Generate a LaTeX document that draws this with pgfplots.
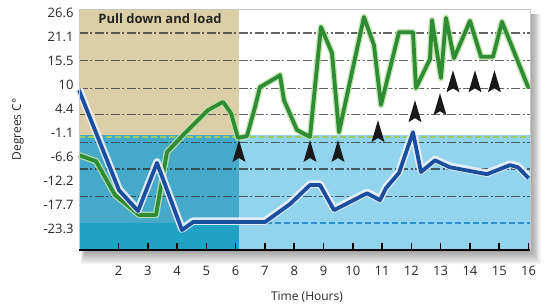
\documentclass[border=0pt]{standalone}
\usepackage{pgfplots}
\pgfplotsset{compat=1.18}
\usepackage{fontspec}
\setmainfont{Open Sans}
\definecolor{tanbg}{HTML}{DCCFA8}
\definecolor{bluedark}{HTML}{47A9CA}
\definecolor{bluelight}{HTML}{92D3EE}
\definecolor{bandteal}{HTML}{1FA2C4}
\definecolor{greenline}{HTML}{2F8B34}
\definecolor{greenglow}{HTML}{BDE3A8}
\definecolor{blueline}{HTML}{1C4E9E}
\definecolor{blueglow}{HTML}{EEF1FB}
\definecolor{gridc}{HTML}{303030}
\definecolor{dashblue}{HTML}{2A8FCB}
\definecolor{dashgreen}{HTML}{9ACD5C}
\pgfdeclareplotmark{spike}{%
  \pgfpathmoveto{\pgfqpoint{0pt}{0pt}}%
  \pgfpathlineto{\pgfqpoint{6.5pt}{-22pt}}%
  \pgfpathlineto{\pgfqpoint{0pt}{-18pt}}%
  \pgfpathlineto{\pgfqpoint{-6.5pt}{-22pt}}%
  \pgfpathclose\pgfusepathqfill}
\begin{document}
\begin{tikzpicture}
\useasboundingbox (-79pt,-57pt) rectangle (468pt,250pt);
\foreach \i in {0,...,11}{\fill[black,opacity=0.035] (\i*0.4pt+2pt,-14pt+\i*1.1pt) rectangle (462pt-\i*0.9pt,236pt);}
\begin{axis}[
  scale only axis, width=451pt, height=241pt,
  xmin=0.651, xmax=16.05, ymin=-28.2, ymax=27.45,
  axis background/.style={fill=white},
  axis on top,
  axis line style={draw=black!22, line width=0.8pt},
  xtick={2,...,16}, xtick pos=bottom, tick align=inside,
  xtick style={black, line width=1.5pt}, major tick length=7pt,
  ytick={26.6,21.1,15.5,10,4.4,-1.1,-6.6,-12.2,-17.7,-23.3},
  yticklabels={26.6,21.1,15.5,10,4.4,-1.1,-6.6,-12.2,-17.7,-23.3},
  ytick style={draw=none},
  /pgf/number format/assume math mode=true,
  tick label style={font=\fontsize{13}{15}\selectfont, text=black!85},
  xticklabel style={yshift=-13pt},
  yticklabel style={xshift=-2pt},
  xlabel={Time (Hours)},
  ylabel={Degrees C°},
  label style={font=\fontsize{12}{14}\selectfont, text=black!85},
  xlabel style={at={(axis description cs:0.5055,-0.197)}, anchor=center},
  ylabel style={at={(axis description cs:-0.1353,0.5)}, anchor=center},
  clip=false,
  after end axis/.code={\draw[black, line width=2pt] (rel axis cs:0,0) -- (rel axis cs:1,0);},
]
% background regions
\addplot[draw=none, fill=tanbg] coordinates {(0.651,-1.65) (6.114,-1.65) (6.114,27.45) (0.651,27.45)} -- cycle;
\addplot[draw=none, fill=bluedark] coordinates {(0.651,-28.2) (6.114,-28.2) (6.114,-1.65) (0.651,-1.65)} -- cycle;
\addplot[draw=none, fill=bluelight] coordinates {(6.114,-28.2) (16.05,-28.2) (16.05,-1.65) (6.114,-1.65)} -- cycle;
\addplot[draw=none, fill=bandteal] coordinates {(0.651,-28.2) (6.114,-28.2) (6.114,-21.9) (0.651,-21.9)} -- cycle;
% grid lines
\foreach \g in {21.9,15.5,9.1,3.0,-3.3,-9.5,-15.9}{
  \edef\tmp{\noexpand\addplot[gridc, opacity=0.75, line width=1.2pt, dash pattern=on 9pt off 2.5pt on 2pt off 2.5pt] coordinates {(0.651,\g) (16.05,\g)};}\tmp
}
\addplot[dashgreen, line width=1.3pt, dash pattern=on 6pt off 3pt] coordinates {(0.651,-2.11) (16.05,-2.11)};
\addplot[dashblue, line width=1.3pt, dash pattern=on 6pt off 3pt] coordinates {(6.114,-21.99) (16.05,-21.99)};
\pgfplotstableread{
h v
0.651 -6.3
1.232 -7.7
1.881 -15.5
2.700 -20.1
3.280 -20.1
3.656 -5.6
4.270 -1.2
5.056 4.1
5.568 6.0
5.841 3.4
6.080 -2.3
6.387 -1.9
6.660 4.8
6.831 9.4
7.411 11.7
7.514 12.2
7.650 6.4
8.094 -0.5
8.538 -2.1
8.913 23.3
9.289 17.3
9.528 -1.0
10.381 25.6
10.723 19.1
10.962 5.3
11.577 22.1
12.055 22.1
12.157 9.2
12.635 15.9
12.703 24.9
13.011 11.5
13.181 25.4
13.455 16.1
14.001 24.7
14.377 16.4
14.786 16.4
15.094 24.5
16.0 9.2
}\greendata
\pgfplotstableread{
h v
0.651 8.7
2.017 -14.4
2.666 -19.2
3.314 -8.1
4.168 -23.6
4.544 -21.75
7.002 -21.75
7.855 -17.6
8.538 -13.2
8.880 -13.2
9.358 -19.0
10.485 -15.1
10.928 -16.7
11.133 -13.9
11.577 -10.4
12.055 -1.0
12.328 -10.2
12.806 -7.5
13.318 -9.1
14.582 -10.7
15.367 -8.6
15.640 -9.1
16.0 -11.6
}\bluedata
\addplot[greenglow, line width=6.5pt, line join=round, opacity=0.85] table[x=h,y=v] {\greendata};
\addplot[greenline, line width=3.8pt, line join=round] table[x=h,y=v] {\greendata};
\addplot[blueglow, line width=7.5pt, line join=round, opacity=0.9, yshift=1pt] table[x=h,y=v] {\bluedata};
\addplot[blueline, line width=3.8pt, line join=round] table[x=h,y=v] {\bluedata};
\addplot[only marks, mark=spike, color=black, mark options={fill=black!90}] coordinates {
(6.114,-2.8) (8.538,-2.8) (9.494,-2.8) (10.860,1.8) (12.123,6.4) (12.977,8.0) (13.421,13.3) (14.172,13.3) (14.837,13.3)};
\node[font=\bfseries\fontsize{13}{15}\selectfont, text=black!85] at (axis cs:3.417,25.3) {Pull down and load};
\end{axis}
\end{tikzpicture}
\end{document}
